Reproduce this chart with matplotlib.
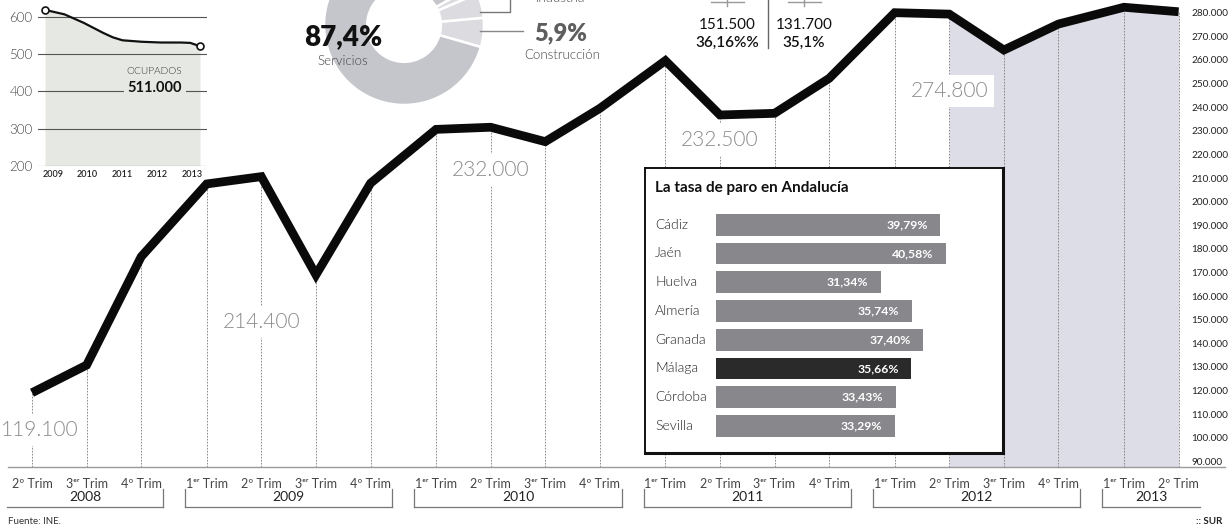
import numpy as np
import matplotlib
matplotlib.use("Agg")
import matplotlib.pyplot as plt
from matplotlib.lines import Line2D
from matplotlib import font_manager

plt.rcParams["font.family"] = ["Lato", "DejaVu Sans"]

W, H = 1232, 530
INK = "#111111"
GREY = "#8a8a8a"
SHADE = "#dcdde6"
FILL = "#e5e8e3"

# main series: parados por trimestre
q_year = [2008] * 3 + [2009] * 4 + [2010] * 4 + [2011] * 4 + [2012] * 4 + [2013] * 2
q_num = [2, 3, 4] + [1, 2, 3, 4] * 4 + [1, 2]
paro = [119100, 130800, 176700, 207500, 210600, 169000, 207800,
        230600, 231500, 225400, 239500, 259700, 236700, 237400,
        252200, 280000, 279400, 264200, 275200, 282300, 280400]
ann_idx = [0, 4, 8, 12, 16]
ann_text = ["119.100", "214.400", "232.000", "232.500", "274.800"]

# ocupados inset
ocup_x = [2009, 2009.5, 2010, 2010.5, 2010.75, 2011, 2011.5, 2012, 2012.5, 2012.75, 2013]
ocup_y = [620, 608, 585, 558, 546, 538, 534, 532, 532, 531, 522]
ocup_years = ["2009", "2010", "2011", "2012", "2013"]

# donut by sector
sectores = ["Construcción", "Industria", "Agricultura", "Servicios"]
sector_pct = [5.9, 5.0, 1.7, 87.4]

# unemployment rate bars
provincias = ["Cádiz", "Jaén", "Huelva", "Almería", "Granada", "Málaga", "Córdoba", "Sevilla"]
tasas = [39.79, 40.58, 31.34, 35.74, 37.40, 35.66, 33.43, 33.29]


# look for a real light cut (Lato, Roboto, Open Sans...), otherwise regular Lato
def _find_light():
    files = [f.fname for f in font_manager.fontManager.ttflist]
    for fam in ("lato", "roboto", "opensans", "open sans", "inter", "notosans"):
        for fn in files:
            base = fn.split("/")[-1].lower().replace("-", "").replace("_", "")
            if base.startswith(fam.replace(" ", "")) and "light" in base \
                    and "italic" not in base and "extra" not in base and "condensed" not in base:
                return fn
    return None


_light_path = _find_light()


def light(size):
    if _light_path:
        return font_manager.FontProperties(fname=_light_path, size=size)
    return font_manager.FontProperties(family="Lato", weight="normal", size=size)


def px_axes(x0, y0, x1, y1, **kw):
    return fig.add_axes([x0 / W, 1 - y1 / H, (x1 - x0) / W, (y1 - y0) / H], **kw)


def ftext(x, y, s, **kw):
    kw.setdefault("ha", "center")
    kw.setdefault("va", "center")
    fig.text(x / W, 1 - y / H, s, **kw)


def fline(xs, ys, **kw):
    fig.add_artist(Line2D([x / W for x in xs], [1 - y / H for y in ys], **kw))


fig = plt.figure(figsize=(W / 100, H / 100), dpi=100)

# ---- main line chart
ax = px_axes(0, 0, 1186, 467)
ax.set_facecolor("none")
pos = np.arange(len(paro)) + 0.2 * (np.array(q_year) - 2008)
X0, SX = 32, 54.6
ax.set_xlim(-X0 / SX, (1186 - X0) / SX)
y_lo, y_hi = 87660, 285377
ax.set_ylim(y_lo, y_hi)
for s in ax.spines.values():
    s.set_visible(False)


def yv(px):
    return y_hi - px / 467 * (y_hi - y_lo)


ax.fill_between(pos[16:], paro[16:], y_lo, color=SHADE, lw=0, zorder=0.5)
ax.vlines(pos, y_lo, paro, colors="#7a7a7a", linestyles=(0, (2, 1.6)), lw=0.6, zorder=1)
ax.plot(pos, paro, color="#0a0a0a", lw=6.3, solid_joinstyle="miter",
        solid_capstyle="butt", zorder=3)

ann_y = [430, 322, 170, 140, 91]
ann_dx = [8, 0, 0, 0, 0]
for i, t, ypx, dx in zip(ann_idx, ann_text, ann_y, ann_dx):
    ax.annotate(t, (pos[i], yv(ypx)), xytext=(dx, 0), textcoords="offset pixels",
                ha="center", va="center", fontproperties=light(15), color=GREY,
                bbox=dict(boxstyle="square,pad=0.3", fc="white", ec="none"), zorder=2)

ax.yaxis.tick_right()
ticks = list(range(90000, 280001, 10000))
ax.set_yticks(ticks)
ax.set_yticklabels([f"{t:,}".replace(",", ".") for t in ticks])
ax.tick_params(axis="y", length=0, pad=4, labelsize=7.2, labelcolor="#222222")

ax.set_xticks(pos)
ax.set_xticklabels([f"{q}º Trim" if q in (2, 4) else f"{q}ᵉʳ Trim" for q in q_num])
ax.tick_params(axis="x", length=0, pad=8, labelsize=9, labelcolor="#444444")


def fy(px):
    return (467 - px) / 467


tr = ax.get_xaxis_transform()
years = sorted(set(q_year))
qy = np.array(q_year)
for k, yr in enumerate(years):
    p = pos[qy == yr]
    left = p[0] - 0.45 if k == 0 else (pos[qy == years[k - 1]][-1] + p[0]) / 2 + 0.2
    right = p[-1] + 0.4 if k == len(years) - 1 else (p[-1] + pos[qy == years[k + 1]][0]) / 2 - 0.2
    ax.plot([left, right], [fy(507), fy(507)], color="#777777", lw=0.9, transform=tr, clip_on=False)
    if k > 0:
        ax.plot([left, left], [fy(489), fy(507)], color="#777777", lw=0.9, transform=tr, clip_on=False)
    if k < len(years) - 1:
        ax.plot([right, right], [fy(489), fy(507)], color="#777777", lw=0.9, transform=tr, clip_on=False)
    ax.text((left + right) / 2, fy(497), str(yr), transform=tr, ha="center", va="center",
            fontsize=10, color="#222222")

fline([8, 1225], [467, 467], color="#9a9a9a", lw=1)

# ---- ocupados inset
ax1 = px_axes(38, 0, 207, 165.7)
ax1.set_facecolor("none")
ax1.set_xlim(2009 - 7 / 38.75, 2009 + 162 / 38.75)
ax1.set_ylim(200, 646.6)
for s in ax1.spines.values():
    s.set_visible(False)
ax1.fill_between(ocup_x, ocup_y, 200, color=FILL, lw=0, zorder=1)
for g in [200, 300, 400, 500, 600]:
    ax1.axhline(g, color="#555555", lw=0.8, zorder=2)
ax1.plot(ocup_x, ocup_y, color="#111111", lw=1.6, zorder=3)
ax1.plot([ocup_x[0], ocup_x[-1]], [ocup_y[0], ocup_y[-1]], "o", mfc="white", mec="#111111",
         ms=5, mew=1.2, zorder=5, clip_on=False)
ax1.set_yticks([200, 300, 400, 500, 600])
ax1.tick_params(axis="y", length=0, pad=4, labelsize=9, labelcolor="#444444")
for lab in ax1.get_yticklabels():
    lab.set_fontproperties(light(9.5))
ax1.set_xticks(np.linspace(2009.2, 2012.8, 5))
ax1.set_xticklabels(ocup_years)
ax1.tick_params(axis="x", length=0, pad=3, labelsize=6.5, labelcolor="#222222")
for lab in ax1.get_xticklabels():
    lab.set_fontweight("semibold")
ax1.text(2011.83, 409, "511.000", ha="center", va="center", fontsize=10.5, weight="bold",
         color="#111111", bbox=dict(boxstyle="square,pad=0.25", fc=FILL, ec="none"), zorder=4)
ax1.text(2011.83, 455, "OCUPADOS", ha="center", va="center", fontproperties=light(7.3),
         color="#333333", zorder=4)
ftext(165, -5, "164.200", fontsize=11.5, weight="bold", color="#111111")

# ---- sector donut
axd = px_axes(324, -55, 484, 105)
axd.pie(sector_pct, startangle=-16, counterclock=True,
        colors=["#dcdce0", "#dcdce0", "#dcdce0", "#c5c6cc"],
        wedgeprops=dict(width=0.54, edgecolor="white", linewidth=1.8))
axd.set_xlim(-1, 1)
axd.set_ylim(-1, 1)
ftext(343, 37, "87,4%", fontsize=20, weight="heavy", color="#111111")
ftext(343, 61, "Servicios", fontproperties=light(9.5), color="#444444")
fline([480, 523], [31, 31], color="#888888", lw=1)
ftext(561, 33, "5,9%", fontsize=17, weight="heavy", color="#5e5e5e")
ftext(562, 55, "Construcción", fontproperties=light(9.5), color="#444444")
fline([480, 510, 510], [12, 12, 0], color="#777777", lw=1)
ftext(560, -2, "Industria", fontproperties=light(9.5), color="#444444")

# ---- top middle figures
for cx, a, b in [(727, "151.500", "36,16%%"), (804, "131.700", "35,1%")]:
    fline([cx - 16, cx + 17], [2, 2], color="#999999", lw=1)
    fline([cx, cx], [0, 6], color="#999999", lw=1)
    ftext(cx, 25, a, fontsize=11, color="#111111")
    ftext(cx, 43, b, fontsize=11, color="#111111", weight="semibold")
fline([768, 768], [0, 48], color="#666666", lw=1)

# ---- unemployment rate box
axbox = px_axes(645, 168.3, 1002.7, 452.7, zorder=4)
axbox.set_facecolor("white")
axbox.set_xticks([])
axbox.set_yticks([])
for s in axbox.spines.values():
    s.set_linewidth(1.4)
    s.set_color("#111111")
axbox.spines["right"].set_linewidth(2.2)
axbox.spines["bottom"].set_linewidth(2.2)
axbox.text(655 / W, 1 - 187.7 / H, "La tasa de paro en Andalucía", transform=fig.transFigure,
           ha="left", va="center", fontsize=11, weight="bold", color="#111111")

axb = px_axes(716, 210.4, 990, 440.2, zorder=5)
axb.set_facecolor("none")
axb.axis("off")
bar_cols = ["#2a2a2a" if p == "Málaga" else "#88888c" for p in provincias]
axb.barh(range(len(tasas)), tasas, height=0.756, color=bar_cols)
axb.set_xlim(7.8, 7.8 + 274 / 7.01)
axb.set_ylim(len(tasas) - 0.5, -0.5)
for i, (p, v) in enumerate(zip(provincias, tasas)):
    axb.annotate(f"{v:.2f}%".replace(".", ","), (v, i), xytext=(-9, 0), textcoords="offset points",
                 ha="right", va="center", color="white", weight="bold", fontsize=8.8)
    axb.text((655 - 716) / 274, i, p, transform=axb.get_yaxis_transform(), ha="left",
             va="center", fontproperties=light(10), color="#222222")

# ---- footer
ftext(8, 521, "Fuente: INE.", ha="left", fontsize=7, color="#333333")
ftext(1222, 521, ":: SUR", ha="right", fontsize=7, weight="bold", color="#222222")

fig.savefig("out.png", dpi=100)
